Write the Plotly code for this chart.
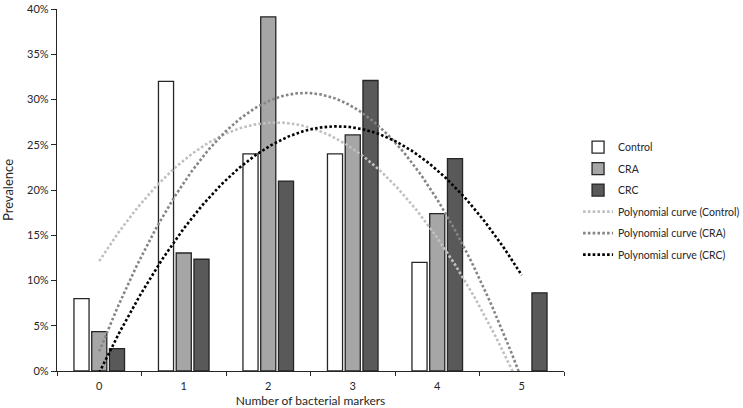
import numpy as np
import plotly.graph_objects as go

markers = ["0", "1", "2", "3", "4", "5"]
control = [0.08, 0.32, 0.24, 0.24, 0.12, 0.0]
cra = [0.0435, 0.1304, 0.3913, 0.2609, 0.1739, 0.0]
crc = [0.0247, 0.1235, 0.2099, 0.3210, 0.2346, 0.0864]

font = "Lato, 'Liberation Sans', sans-serif"
edge = "#262626"


def outline(vals):
    # no outline for empty bars, Excel doesn't draw them
    return [1.3 if v > 0 else 0 for v in vals]


fig = go.Figure()

# bars
fig.add_trace(go.Bar(x=markers, y=control, name="Control", legendgroup="a",
                     marker=dict(color="white", line=dict(color=edge, width=outline(control)))))
fig.add_trace(go.Bar(x=markers, y=cra, name="CRA", legendgroup="b",
                     marker=dict(color="#a6a6a6", line=dict(color=edge, width=outline(cra)))))
fig.add_trace(go.Bar(x=markers, y=crc, name="CRC", legendgroup="c",
                     marker=dict(color="#595959", line=dict(color=edge, width=outline(crc)))))

# 2nd order polynomial trend lines, fitted on the bar values like Excel does
pos = np.arange(len(markers))
xs = np.linspace(0, len(markers) - 1, 200)
curves = [
    ("Polynomial curve (Control)", control, "#c0c0c0"),
    ("Polynomial curve (CRA)", cra, "#858585"),
    ("Polynomial curve (CRC)", crc, "#000000"),
]
for name, vals, col in curves:
    coef = np.polyfit(pos, vals, 2)
    fig.add_trace(go.Scatter(
        x=xs, y=np.polyval(coef, xs), name=name, mode="lines",
        xaxis="x2", legendgroup=name,
        line=dict(color=col, width=2.6, dash="2.6px,2.2px"),
    ))

fig.update_layout(
    width=743, height=408,
    margin=dict(l=57, r=179, t=9, b=37),
    paper_bgcolor="white", plot_bgcolor="white",
    font=dict(family=font, size=11, color="#262626"),
    barmode="group", bargap=0.37, bargroupgap=0.15,
    showlegend=True,
    legend=dict(xref="container", yref="container", x=0.778, y=0.675,
                xanchor="left", yanchor="top",
                font=dict(size=10.5), itemwidth=30, tracegroupgap=2.5,
                bgcolor="rgba(0,0,0,0)"),
    xaxis=dict(
        type="category", showline=True, linecolor=edge, linewidth=1.3,
        ticks="outside", tickson="boundaries", ticklen=4, tickcolor=edge,
        ticklabelstandoff=5,
        showgrid=False, zeroline=False, automargin=False,
        title=dict(text="Number of bacterial markers", font=dict(size=12), standoff=6),
    ),
    xaxis2=dict(
        overlaying="x", range=[-0.5, len(markers) - 0.5], visible=False,
    ),
    yaxis=dict(
        range=[0, 0.4], dtick=0.05, tickformat=".0%",
        showline=True, linecolor=edge, linewidth=1.3,
        ticks="outside", ticklen=5, tickcolor=edge,
        showgrid=False, zeroline=False, automargin=False,
        title=dict(text="Prevalence", font=dict(size=13), standoff=12),
    ),
)

fig.write_html("out.html", config={"displayModeBar": False},
               post_script="document.body.style.margin='0';")
